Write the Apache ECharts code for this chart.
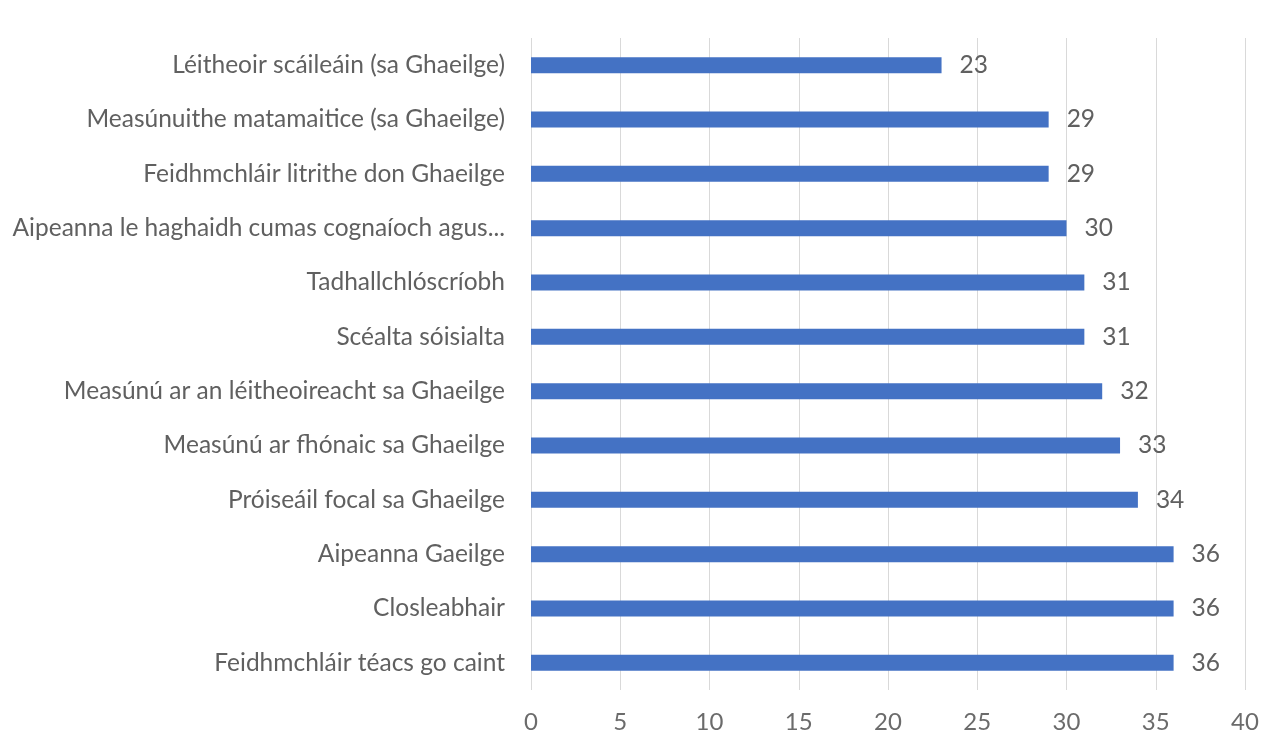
<!DOCTYPE html>
<html><head><meta charset="utf-8">
<script src="https://cdn.jsdelivr.net/npm/echarts@6/dist/echarts.min.js"></script>
<style>html,body{margin:0;padding:0;background:#fff}#c{width:1279px;height:742px}</style>
</head><body><div id="c"></div>
<script>
const categories = [
  "Feidhmchláir téacs go caint",
  "Closleabhair",
  "Aipeanna Gaeilge",
  "Próiseáil focal sa Ghaeilge",
  "Measúnú ar fhónaic sa Ghaeilge",
  "Measúnú ar an léitheoireacht sa Ghaeilge",
  "Scéalta sóisialta",
  "Tadhallchlóscríobh",
  "Aipeanna le haghaidh cumas cognaíoch agus...",
  "Feidhmchláir litrithe don Ghaeilge",
  "Measúnuithe matamaitice (sa Ghaeilge)",
  "Léitheoir scáileáin (sa Ghaeilge)"
];
const values = [36, 36, 36, 34, 33, 32, 31, 31, 30, 29, 29, 23];
const xTicks = {min: 0, max: 40, interval: 5};

const chart = echarts.init(document.getElementById('c'));
chart.setOption({
  animation: false,
  grid: {left: 531, right: 34, top: 38, bottom: 52, containLabel: false},
  xAxis: {
    type: 'value', min: xTicks.min, max: xTicks.max, interval: xTicks.interval,
    axisLine: {show: false}, axisTick: {show: false},
    splitLine: {lineStyle: {color: '#d9d9d9', width: 1}},
    axisLabel: {color: '#6b6b6b', fontSize: 24, fontFamily: 'Lato', margin: 20}
  },
  yAxis: {
    type: 'category', data: categories,
    axisLine: {show: false}, axisTick: {show: false},
    axisLabel: {color: '#606060', fontSize: 24.5, fontFamily: 'Lato', margin: 26}
  },
  series: [{
    type: 'bar', data: values, barWidth: 16,
    itemStyle: {color: '#4472C4'},
    label: {show: true, position: 'right', distance: 18, color: '#606060', fontSize: 24.5, fontFamily: 'Lato'}
  }]
});
</script></body></html>
